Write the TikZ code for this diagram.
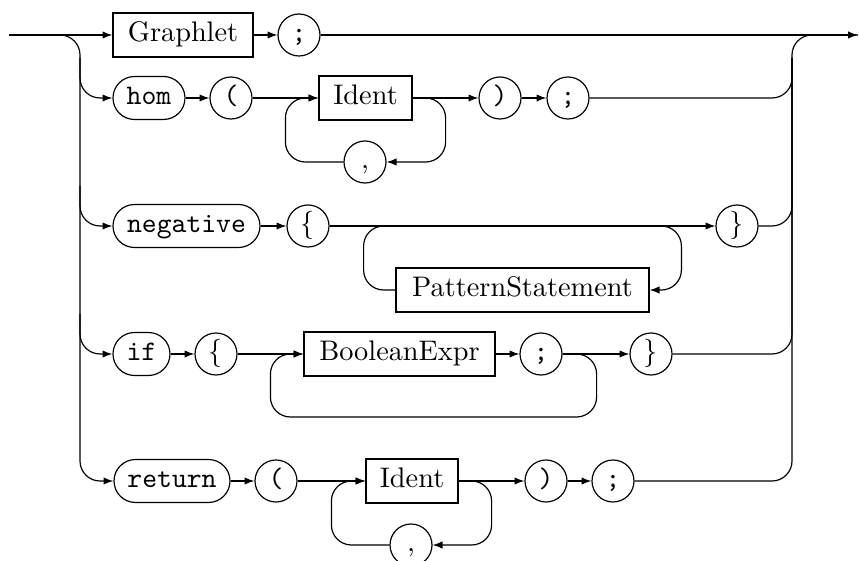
\documentclass[tikz,border=0pt]{standalone}
\usetikzlibrary{arrows.meta,calc}
\newlength\pxu
\setlength\pxu{0.3534pt}
\tikzset{
  nonterm/.style={draw, rectangle, minimum height=44\pxu, inner sep=0pt, text height=6.9pt, text depth=2pt},
  kw/.style={draw, rectangle, rounded corners=21.5\pxu, minimum height=43\pxu, inner sep=0pt, font=\ttfamily, text height=6.9pt, text depth=2pt},
  term/.style={draw, circle, minimum size=42\pxu, inner sep=0pt, text height=6.9pt, text depth=2pt},
  flow/.style={-{Latex[length=3.5pt,width=2.6pt]}},
  rc/.style={rounded corners=20\pxu},
}
\begin{document}
\begin{tikzpicture}[x=\pxu, y=-\pxu, line width=0.42pt]
\useasboundingbox (0,0) rectangle (859,561);
\coordinate (start) at (9,35);
\coordinate (endpt) at (858,35);
\coordinate (L) at (80,35);
\coordinate (R) at (792,35);
\coordinate (Rtop) at (792,58);
% row 1
\node[nonterm, minimum width=140\pxu] (graphlet) at (183,35) {Graphlet};
\node[term] (semiA) at (299,35) {\texttt{;}};
% row 2
\node[kw, minimum width=72\pxu] (hom) at (149,98) {hom};
\node[term] (lpA) at (231,98) {\texttt{(}};
\node[nonterm, minimum width=93\pxu] (identA) at (365.5,98) {Ident};
\node[term] (commaA) at (365,162) {,};
\node[term] (rpA) at (500,98) {\texttt{)}};
\node[term] (semiB) at (568,98) {\texttt{;}};
% row 3
\node[kw, minimum width=147\pxu] (neg) at (186.5,226) {negative};
\node[term] (lbA) at (308,226) {$\{$};
\node[nonterm, minimum width=253\pxu] (pat) at (522.5,290) {PatternStatement};
\node[term] (rbA) at (737,226) {$\}$};
% row 4
\node[kw, minimum width=57\pxu] (if) at (141.5,354) {if};
\node[term] (lbB) at (216,354) {$\{$};
\node[nonterm, minimum width=191\pxu] (bool) at (399.5,354) {BooleanExpr};
\node[term] (semiC) at (541,354) {\texttt{;}};
\node[term] (rbB) at (651,354) {$\}$};
% row 5
\node[kw, minimum width=116\pxu] (ret) at (172,481) {return};
\node[term] (lpB) at (276,481) {\texttt{(}};
\node[nonterm, minimum width=92\pxu] (identB) at (412,481) {Ident};
\node[term] (commaB) at (411,545) {,};
\node[term] (rpB) at (546,481) {\texttt{)}};
\node[term] (semiD) at (613,481) {\texttt{;}};

% main line and rails
\draw[flow] (start) -- (graphlet);
\draw[flow] (graphlet) -- (semiA);
\draw[flow] (semiA) -- (endpt);
\draw[rc, flow] (start) -- (L) |- (ret.west);
\draw[rc, flow] (hom.west -| L) ++(0,-40) |- (hom.west);
\draw[rc, flow] (neg.west -| L) ++(0,-40) |- (neg.west);
\draw[rc, flow] (if.west -| L) ++(0,-40) |- (if.west);
\draw[rc] (semiD.east) -| (R) -- (endpt);
\draw[rc] (semiB.east) -| (Rtop);
\draw[rc] (rbA.east) -| (Rtop);
\draw[rc] (rbB.east) -| (Rtop);

% row 2
\draw[flow] (hom) -- (lpA);
\draw[flow] (lpA) -- (identA);
\draw[flow] (identA) -- (rpA);
\draw[flow] (rpA) -- (semiB);
\draw[rc, flow] (identA.east) -- ++(33,0) |- (commaA.east);
\draw[rc, flow] (commaA.west) -| ($(identA.west)+(-33,0)$) -- (identA.west);

% row 3
\draw[flow] (neg) -- (lbA);
\draw[flow] (lbA) -- (rbA);
\draw[rc, flow] ($(rbA.west)+(-60,0)$) -- ($(rbA.west)+(-34,0)$) |- (pat.east);
\draw[rc] (pat.west) -| ($(lbA.east)+(34,0)$) -- ++(25,0);

% row 4
\draw[flow] (if) -- (lbB);
\draw[flow] (lbB) -- (bool);
\draw[flow] (bool) -- (semiC);
\draw[flow] (semiC) -- (rbB);
\draw[rc, flow] (semiC.east) -- ++(34,0) -- ++(0,63) -| ($(bool.west)+(-33,0)$) -- (bool.west);

% row 5
\draw[flow] (ret) -- (lpB);
\draw[flow] (lpB) -- (identB);
\draw[flow] (identB) -- (rpB);
\draw[flow] (rpB) -- (semiD);
\draw[rc, flow] (identB.east) -- ++(33,0) |- (commaB.east);
\draw[rc, flow] (commaB.west) -| ($(identB.west)+(-34,0)$) -- (identB.west);
\end{tikzpicture}
\end{document}
